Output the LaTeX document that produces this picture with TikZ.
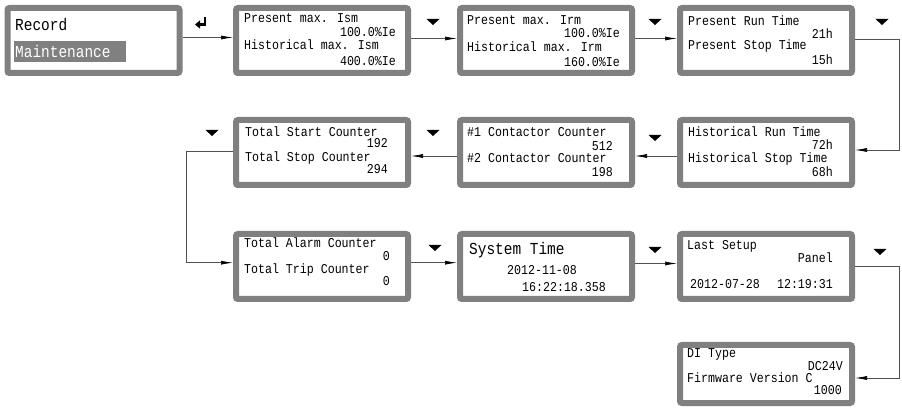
\documentclass[tikz,border=0pt]{standalone}
\usepackage{fontspec}
\usepackage{tikz}
\usetikzlibrary{arrows.meta, positioning, calc}
\newfontfamily\lcdfont[FakeStretch=0.86]{Liberation Mono}
\definecolor{lcdgray}{RGB}{128,128,128}
\definecolor{linegray}{RGB}{80,80,80}
\tikzset{
  screen/.style={rectangle, draw=lcdgray, fill=white, line width=6pt,
    minimum width=172pt, minimum height=65pt, rounded corners=2pt, inner sep=0pt},
  lcd/.style={font=\lcdfont\fontsize{13.5}{14}\selectfont, inner sep=0pt},
  lcdbig/.style={font=\lcdfont\fontsize{16.8}{17}\selectfont, inner sep=0pt},
  link/.style={draw=linegray, line width=0.7pt, -{Latex[length=12pt, width=4pt, black]}},
  downtri/.pic={\fill[black] (-6.5,-3) -- (6.5,-3) -- (0,3) -- cycle;}
}

\begin{document}
\begin{tikzpicture}[x=1pt, y=-1pt]
  \useasboundingbox (0,0) rectangle (902,411);

  % Screens
  \node[screen] (rec) at (93.5,40.5) {};
  \node[screen] (ism) at (322,40.5) {};
  \node[screen] (irm) at (546,40.5) {};
  \node[screen] (runp) at (766,40.5) {};
  \node[screen] (runh) at (766,152.5) {};
  \node[screen] (cont) at (546,152.5) {};
  \node[screen] (startstop) at (322,152.5) {};
  \node[screen] (alarm) at (322,266.5) {};
  \node[screen] (systime) at (546,266.5) {};
  \node[screen] (setup) at (766,266.5) {};
  \node[screen, minimum height=58pt] (ditype) at (766,374) {};

  % Record menu
  \node[lcdbig, anchor=base west] (recA) at (15,31) {Record};
  \node[lcdbig, anchor=north west, fill=lcdgray, text=white, minimum height=21pt,
    text width=110pt, inner xsep=1pt] (recB) at (14,41) {Maintenance};

  % Present max. Ism
  \node[lcd, anchor=base west] (ismA) at (244,23) {Present max. Ism};
  \node[lcd, anchor=base east] (ismB) at (396,37) {100.0\%Ie};
  \node[lcd, anchor=base west] (ismC) at (244,50) {Historical max. Ism};
  \node[lcd, anchor=base east] (ismD) at (396,66) {400.0\%Ie};

  % Present max. Irm
  \node[lcd, anchor=base west] (irmA) at (467,24.5) {Present max. Irm};
  \node[lcd, anchor=base east] (irmB) at (620,37.3) {100.0\%Ie};
  \node[lcd, anchor=base west] (irmC) at (467,51.5) {Historical max. Irm};
  \node[lcd, anchor=base east] (irmD) at (620,66.5) {160.0\%Ie};

  % Present run/stop time
  \node[lcd, anchor=base west] (runpA) at (688,26) {Present Run Time};
  \node[lcd, anchor=base east] (runpB) at (833,39) {21h};
  \node[lcd, anchor=base west] (runpC) at (688,50) {Present Stop Time};
  \node[lcd, anchor=base east] (runpD) at (833,65) {15h};

  % Historical run/stop time
  \node[lcd, anchor=base west] (runhA) at (688,137) {Historical Run Time};
  \node[lcd, anchor=base east] (runhB) at (833,150) {72h};
  \node[lcd, anchor=base west] (runhC) at (688,162.7) {Historical Stop Time};
  \node[lcd, anchor=base east] (runhD) at (833,176.7) {68h};

  % Contactor counters
  \node[lcd, anchor=base west] (contA) at (467,137) {\#1 Contactor Counter};
  \node[lcd, anchor=base east] (contB) at (613,150.2) {512};
  \node[lcd, anchor=base west] (contC) at (467,162.5) {\#2 Contactor Counter};
  \node[lcd, anchor=base east] (contD) at (613,177) {198};

  % Start/stop counters
  \node[lcd, anchor=base west] (ssA) at (245,136.5) {Total Start Counter};
  \node[lcd, anchor=base east] (ssB) at (388,148) {192};
  \node[lcd, anchor=base west] (ssC) at (245,161.5) {Total Stop Counter};
  \node[lcd, anchor=base east] (ssD) at (388,174) {294};

  % Alarm/trip counters
  \node[lcd, anchor=base west] (alA) at (244,248) {Total Alarm Counter};
  \node[lcd, anchor=base east] (alB) at (390,260.7) {0};
  \node[lcd, anchor=base west] (alC) at (244,274) {Total Trip Counter};
  \node[lcd, anchor=base east] (alD) at (390,285.7) {0};

  % System time
  \node[lcdbig, anchor=base west] (stA) at (469,255) {System Time};
  \node[lcd, anchor=base west] (stB) at (507,275) {2012-11-08};
  \node[lcd, anchor=base west] (stC) at (522,291.5) {16:22:18.358};

  % Last setup
  \node[lcd, anchor=base west] (suA) at (687,250) {Last Setup};
  \node[lcd, anchor=base east] (suB) at (833,263) {Panel};
  \node[lcd, anchor=base west] (suC) at (690,289) {2012-07-28};
  \node[lcd, anchor=base east] (suD) at (833,289) {12:19:31};

  % DI type / firmware
  \node[lcd, anchor=base west] (diA) at (687,357.5) {DI Type};
  \node[lcd, anchor=base east] (diB) at (843,370.5) {DC24V};
  \node[lcd, anchor=base west] (diC) at (687,382) {Firmware Version C};
  \node[lcd, anchor=base east] (diD) at (842,395) {1000};

  % Connectors
  \draw[link] ([yshift=3pt]rec.east) -- ([yshift=3pt]ism.west);
  \draw[link] ([yshift=2pt]ism.east) -- ([yshift=2pt]irm.west);
  \draw[link] ([yshift=2pt]irm.east) -- ([yshift=2pt]runp.west);
  \draw[link] ([yshift=1pt]runp.east) -- ++(44,0) |- ([yshift=2.5pt]runh.east);
  \draw[link] ([yshift=-3.5pt]runh.west) -- ([yshift=-3.5pt]cont.east);
  \draw[link] ([yshift=-3.5pt]cont.west) -- ([yshift=-3.5pt]startstop.east);
  \draw[link] ([yshift=1pt]startstop.west) -- ++(-47,0) |- ([yshift=3.8pt]alarm.west);
  \draw[link] ([yshift=3.8pt]alarm.east) -- ([yshift=3.8pt]systime.west);
  \draw[link] ([yshift=3pt]systime.east) -- ([yshift=3pt]setup.west);
  \draw[link] (setup.east) -- ++(44,0) |- ([yshift=-4pt]ditype.east);

  % Key marks
  \draw[line width=2.2pt, -{Triangle[length=5pt, width=8pt]}] (205,17) -- (205,24.5) -- (195,24.5);
  \foreach \x/\y in {433/22, 655/22, 882/22, 212/133, 433/133, 655/138, 435/248, 655/250, 880/252}
    \pic at (\x,\y) {downtri};
\end{tikzpicture}
\end{document}
